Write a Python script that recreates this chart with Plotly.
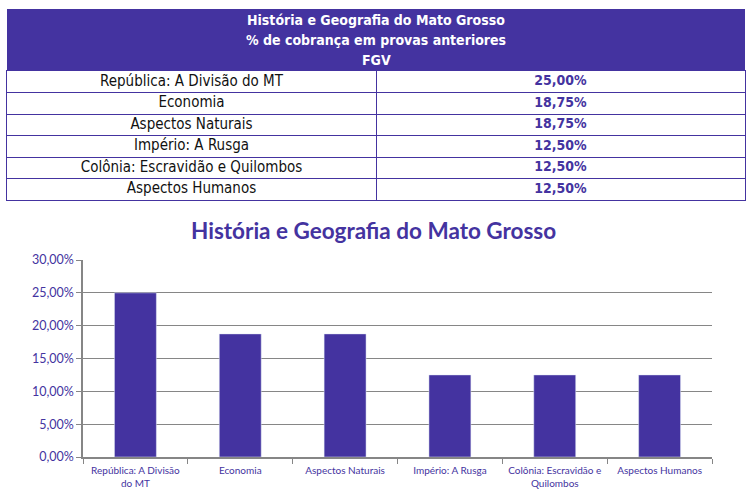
import plotly.graph_objects as go

categories = ["República: A Divisão do MT", "Economia", "Aspectos Naturais",
              "Império: A Rusga", "Colônia: Escravidão e Quilombos", "Aspectos Humanos"]
tick_labels = ["República: A Divisão<br>do MT", "Economia", "Aspectos Naturais",
               "Império: A Rusga", "Colônia: Escravidão e<br>Quilombos", "Aspectos Humanos"]
values = [0.25, 0.1875, 0.1875, 0.125, 0.125, 0.125]
table_title = ["História e Geografia do Mato Grosso", "% de cobrança em provas anteriores", "FGV"]
chart_title = "História e Geografia do Mato Grosso"

PURPLE = "#4433A0"
GRAY = "#868686"
TFONT = "DejaVu Sans Condensed, sans-serif"
W, H = 752, 501

def px(x):
    return x / W

def py(y):
    return 1 - y / H

fig = go.Figure()

pct_text = ["<b>" + f"{v*100:.2f}".replace(".", ",") + "%</b>" for v in values]

# table body drawn on its own axes (rows = categories)
fig.add_trace(go.Scatter(
    x=[0.5] * len(categories), y=categories, text=categories, mode="text",
    textfont=dict(family=TFONT, size=15, color="#111111"),
    xaxis="x2", yaxis="y2", hoverinfo="skip", cliponaxis=False,
))
fig.add_trace(go.Scatter(
    x=[1.5] * len(categories), y=categories, text=pct_text, mode="text",
    textfont=dict(family=TFONT, size=14, color=PURPLE),
    xaxis="x2", yaxis="y2", hoverinfo="skip", cliponaxis=False,
))

fig.add_trace(go.Bar(
    x=categories, y=values, marker_color=PURPLE, width=0.4,
    xaxis="x", yaxis="y", hoverinfo="skip",
))

fig.add_shape(type="rect", xref="paper", yref="paper",
              x0=px(7), x1=px(745), y0=py(71), y1=py(9),
              fillcolor=PURPLE, line=dict(width=0), layer="below")
for i, line in enumerate(table_title):
    fig.add_annotation(xref="paper", yref="paper", x=px(376), y=py(20.5 + i * 19.5),
                       text="<b>" + line + "</b>", showarrow=False,
                       font=dict(family=TFONT, size=14, color="white"),
                       xanchor="center", yanchor="middle")

fig.add_annotation(xref="paper", yref="paper", x=px(373), y=py(231),
                   text="<b>" + chart_title + "</b>", showarrow=False,
                   font=dict(family="Lato", size=22.5, color=PURPLE),
                   xanchor="center", yanchor="middle")

fig.update_layout(
    width=W, height=H,
    margin=dict(l=0, r=0, t=0, b=0, pad=0, autoexpand=False),
    paper_bgcolor="white", plot_bgcolor="rgba(0,0,0,0)",
    separators=",.",
    showlegend=False,
    xaxis=dict(domain=[px(83), px(712)], anchor="y", automargin=False,
               tickmode="array", tickvals=categories, ticktext=tick_labels,
               showline=True, linecolor=GRAY, linewidth=1.5,
               ticks="outside", tickson="boundaries", ticklen=5, tickcolor=GRAY,
               ticklabelstandoff=3,
               tickfont=dict(family="Lato", size=10, color=PURPLE),
               showgrid=False),
    yaxis=dict(domain=[py(457), py(260)], anchor="x", automargin=False,
               range=[0, 0.30], tickvals=[0, 0.05, 0.10, 0.15, 0.20, 0.25, 0.30],
               tickformat=".2%",
               showline=True, linecolor=GRAY, linewidth=1.5,
               ticks="outside", ticklen=5, tickcolor=GRAY,
               gridcolor=GRAY, gridwidth=1.2,
               tickfont=dict(family="Lato", size=12.5, color=PURPLE),
               zeroline=False),
    xaxis2=dict(domain=[px(7), px(745)], anchor="y2", range=[0, 2], automargin=False,
                tickvals=[1], showticklabels=False, ticks="",
                showgrid=True, gridcolor=PURPLE, gridwidth=1,
                showline=True, mirror=True, linecolor=PURPLE, linewidth=1,
                zeroline=False, fixedrange=True),
    yaxis2=dict(domain=[py(200), py(71)], anchor="x2", automargin=False,
                type="category", categoryorder="array", categoryarray=categories,
                autorange=False, range=[5.5, -0.5],
                tickson="boundaries", showticklabels=False, ticks="",
                showgrid=True, gridcolor=PURPLE, gridwidth=1,
                showline=True, mirror=True, linecolor=PURPLE, linewidth=1,
                zeroline=False, fixedrange=True),
    bargap=0.6,
)

fig.write_html("out.html")
